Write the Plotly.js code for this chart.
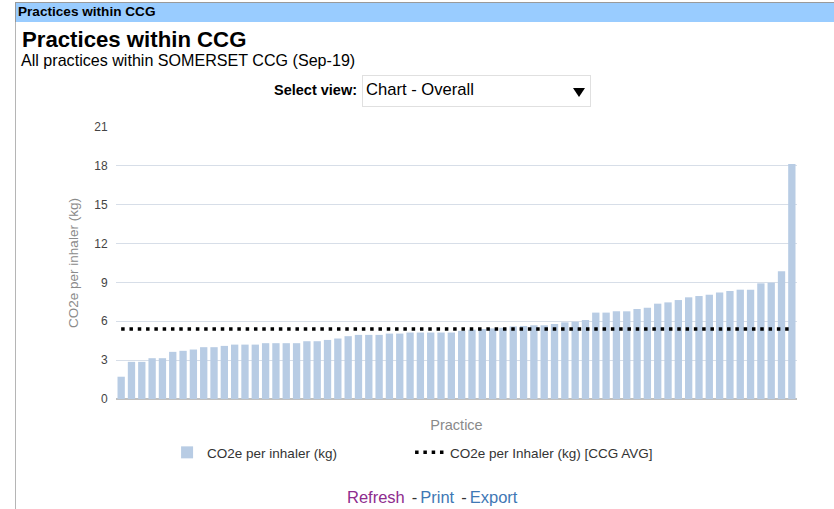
<!DOCTYPE html>
<html>
<head>
<meta charset="utf-8">
<script src="https://cdn.plot.ly/plotly-3.0.1.min.js"></script>
<style>
  html, body { margin: 0; padding: 0; background: #fff; width: 834px; height: 509px; overflow: hidden; font-family: "Liberation Sans", Arial, sans-serif; }
  #chart { position: absolute; left: 0; top: 0; width: 834px; height: 509px; }
  .ov { position: absolute; white-space: nowrap; line-height: 1; }
  #hdr { left: 15px; top: 2px; width: 819px; height: 20px; background: #99ccff; border-top: 1px solid #9a9a9a; border-left: 1px solid #9a9a9a; box-sizing: border-box; }
  #hdrTxt { left: 18px; top: 5px; font-size: 13.6px; font-weight: bold; color: #000; }
  #vline { left: 15px; top: 2px; width: 1px; height: 507px; background: #b5b5b5; }
  #ttl { left: 22px; top: 28.5px; font-size: 22.2px; font-weight: bold; color: #000; }
  #sub { left: 21px; top: 52px; font-size: 16.1px; color: #000; }
  #selLbl { right: 477px; top: 83px; font-size: 14.5px; font-weight: bold; color: #000; }
  #sel { left: 362px; top: 75px; width: 229px; height: 32px; border: 1px solid #e0e0e0; box-sizing: border-box; background: #fff; }
  #selTxt { left: 366px; top: 82px; font-size: 16.6px; color: #000; }
  #arrow { left: 573px; top: 88px; width: 0; height: 0; border-left: 6px solid transparent; border-right: 6px solid transparent; border-top: 9px solid #000; }
  #links { left: 347px; top: 489px; font-size: 16.5px; }
  #links span { display: inline-block; }
  #links .r { color: #8e2c8e; }
  #links .b { color: #3f78b5; }
  #links .d { color: #333; margin-left: 7px; margin-right: 3px; }
</style>
</head>
<body>
<div id="chart"></div>
<div id="vline" class="ov"></div>
<div id="hdr" class="ov"></div>
<div id="hdrTxt" class="ov">Practices within CCG</div>
<div id="ttl" class="ov">Practices within CCG</div>
<div id="sub" class="ov">All practices within SOMERSET CCG (Sep-19)</div>
<div id="selLbl" class="ov">Select view:</div>
<div id="sel" class="ov"></div>
<div id="selTxt" class="ov">Chart - Overall</div>
<div id="arrow" class="ov"></div>
<div id="links" class="ov"><span class="r">Refresh</span><span class="d">-</span><span class="b">Print</span><span class="d">-</span><span class="b">Export</span></div>
<script>
// Practices (anonymous, sorted by value)
var practices = [
  "P01","P02","P03","P04","P05","P06","P07","P08","P09","P10",
  "P11","P12","P13","P14","P15","P16","P17","P18","P19","P20",
  "P21","P22","P23","P24","P25","P26","P27","P28","P29","P30",
  "P31","P32","P33","P34","P35","P36","P37","P38","P39","P40",
  "P41","P42","P43","P44","P45","P46","P47","P48","P49","P50",
  "P51","P52","P53","P54","P55","P56","P57","P58","P59","P60",
  "P61","P62","P63","P64","P65","P66"
];
// CO2e per inhaler (kg)
var co2PerInhaler = [
  1.72, 2.87, 2.87, 3.15, 3.15, 3.64, 3.72, 3.82, 4.00, 4.00,
  4.10, 4.20, 4.20, 4.20, 4.31, 4.31, 4.31, 4.31, 4.46, 4.46,
  4.56, 4.67, 4.85, 4.95, 4.95, 4.95, 5.05, 5.05, 5.13, 5.13,
  5.13, 5.13, 5.13, 5.26, 5.35, 5.40, 5.45, 5.50, 5.60, 5.64,
  5.69, 5.69, 5.79, 5.92, 5.97, 6.10, 6.67, 6.67, 6.77, 6.77,
  6.95, 7.05, 7.36, 7.46, 7.64, 7.85, 7.95, 8.05, 8.23, 8.34,
  8.44, 8.44, 8.93, 8.98, 9.86, 18.15
];
// CCG average
var ccgAvg = 5.4;
var yTicks = [0, 3, 6, 9, 12, 15, 18, 21];

var FONT = '"Liberation Sans", Arial, sans-serif';

var traces = [
  {
    type: 'bar',
    name: 'CO2e per inhaler (kg)',
    x: practices,
    y: co2PerInhaler,
    marker: { color: '#b8cce4', line: { width: 0 } },
    hoverinfo: 'x+y'
  },
  {
    type: 'scatter',
    mode: 'lines',
    name: 'CO2e per Inhaler (kg) [CCG AVG]',
    x: practices,
    y: practices.map(function () { return ccgAvg; }),
    line: { color: '#000000', width: 3.5, dash: '3.5px,4.8px' },
    hoverinfo: 'y'
  }
];

var layout = {
  width: 834,
  height: 509,
  margin: { l: 116, r: 37, t: 127, b: 110, pad: 0 },
  paper_bgcolor: 'rgba(0,0,0,0)',
  plot_bgcolor: 'rgba(0,0,0,0)',
  font: { family: FONT, size: 11, color: '#444' },
  bargap: 0.29,
  showlegend: true,
  legend: {
    orientation: 'h',
    x: 0.075, xanchor: 'left',
    y: -0.14, yanchor: 'top',
    font: { family: FONT, size: 13.5, color: '#333' },
    entrywidth: 198,
    itemwidth: 30,
    traceorder: 'normal'
  },
  xaxis: {
    type: 'category',
    showticklabels: false,
    showgrid: false,
    ticks: '',
    zeroline: false,
    showline: false,
    title: { text: 'Practice', font: { family: FONT, size: 14.5, color: '#8a8a8a' }, standoff: 20 },
    fixedrange: true
  },
  yaxis: {
    range: [0, 21],
    tickvals: yTicks,
    ticktext: yTicks.map(String),
    showgrid: true,
    gridcolor: '#d7dee8',
    gridwidth: 1,
    zeroline: true,
    zerolinecolor: '#c0c0c0',
    zerolinewidth: 2,
    ticks: 'outside',
    ticklen: 5,
    tickcolor: 'rgba(0,0,0,0)',
    tickfont: { family: FONT, size: 12, color: '#444' },
    title: { text: 'CO2e per inhaler (kg)', font: { family: FONT, size: 13.5, color: '#8a8a8a' }, standoff: 12 },
    fixedrange: true
  }
};

Plotly.newPlot('chart', traces, layout, { displayModeBar: false, staticPlot: true });
</script>
</body>
</html>
